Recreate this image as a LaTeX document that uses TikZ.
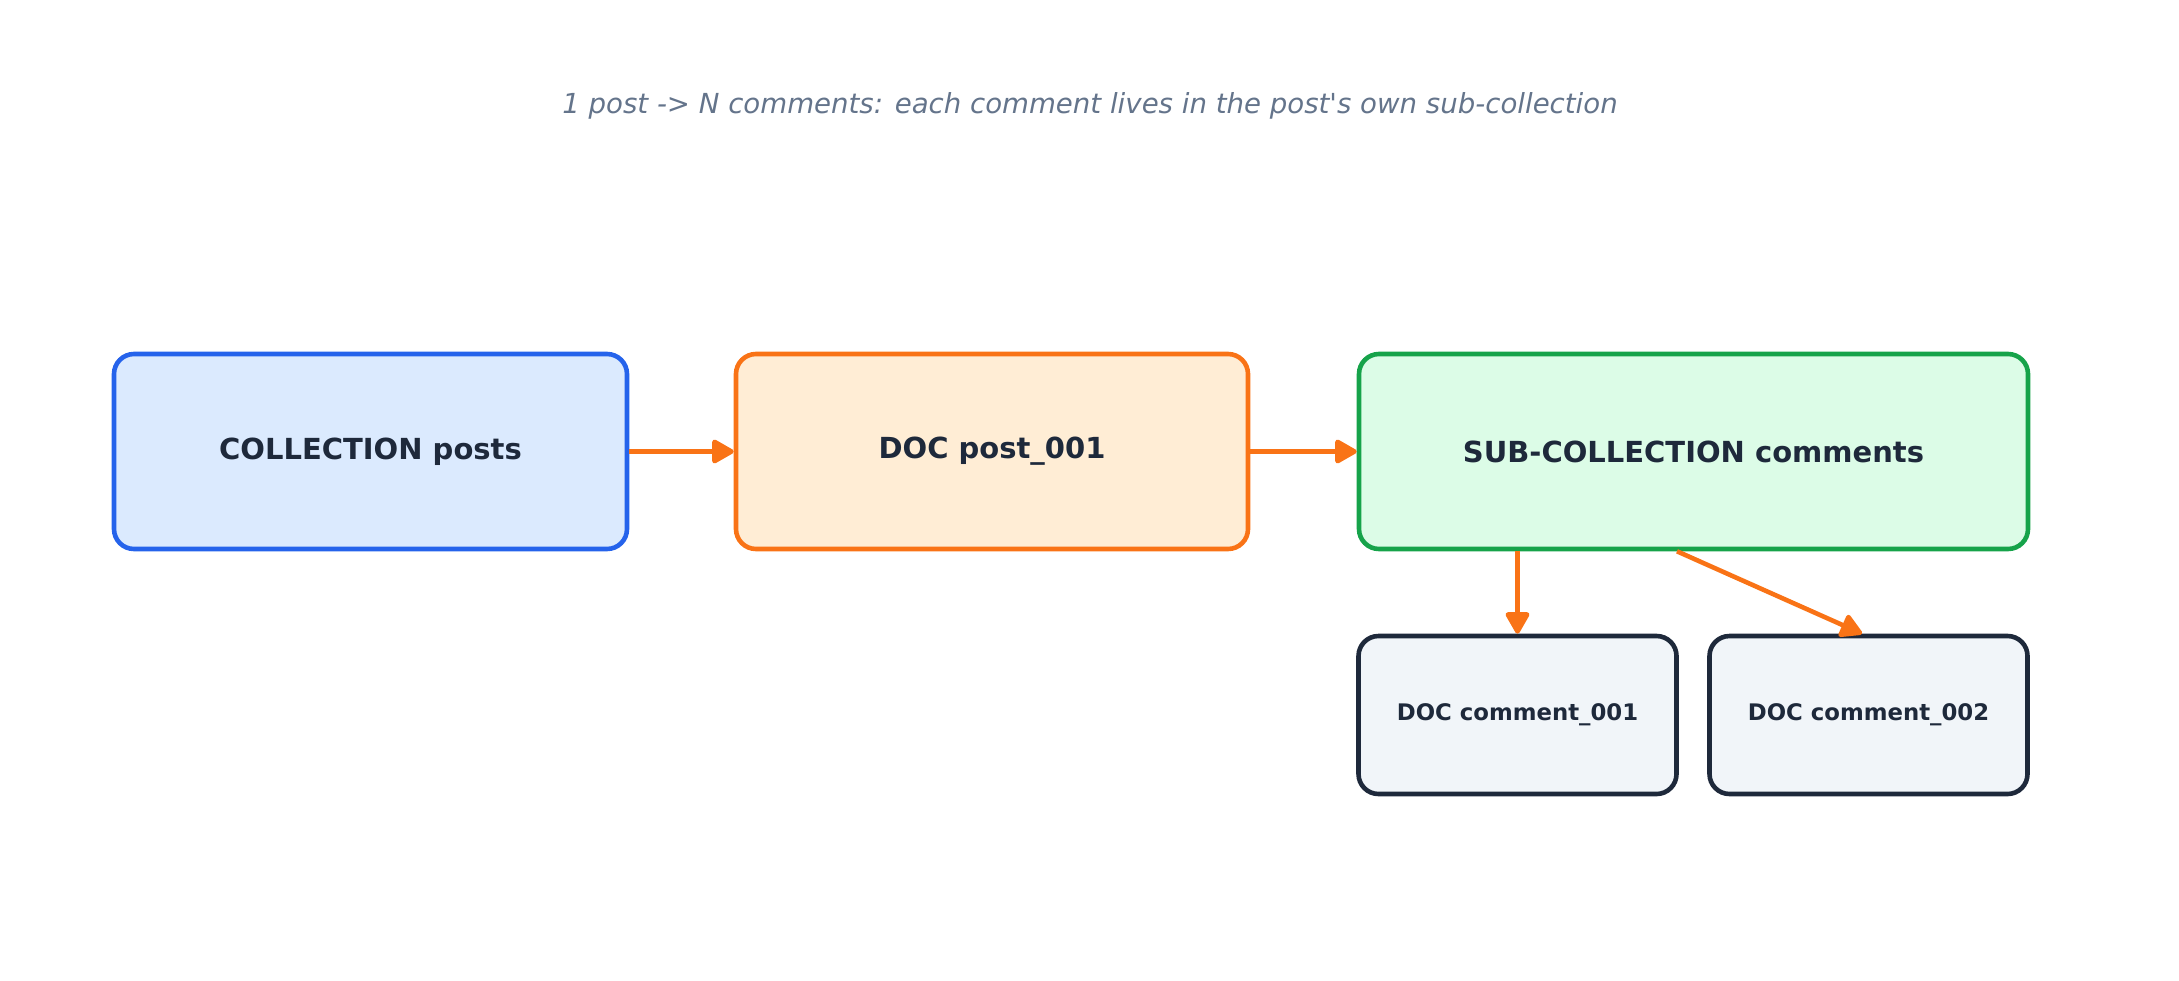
\documentclass[tikz,border=0pt]{standalone}
\usepackage{fontspec}
\setmainfont{DejaVu Sans}
\usetikzlibrary{arrows.meta}
\definecolor{bluedraw}{HTML}{2563EB}
\definecolor{bluefill}{HTML}{DBEAFE}
\definecolor{orangedraw}{HTML}{F97316}
\definecolor{orangefill}{HTML}{FFEDD5}
\definecolor{greendraw}{HTML}{16A34A}
\definecolor{greenfill}{HTML}{DCFCE7}
\definecolor{darkdraw}{HTML}{1E293B}
\definecolor{darkfill}{HTML}{F1F5F9}
\definecolor{titlegray}{HTML}{64748B}
\tikzset{
  box/.style={rounded corners=10pt, line width=2.3pt, text=darkdraw, font=\bfseries\fontsize{14.5}{17}\selectfont, inner sep=0pt},
  bigbox/.style={box, minimum height=97.5pt},
  smallbox/.style={box, minimum height=79pt, minimum width=159pt, draw=darkdraw, fill=darkfill, font=\bfseries\fontsize{11.4}{14}\selectfont},
  link/.style={draw=orangedraw, line width=2.3pt, -{Triangle[length=12pt, width=13pt, round]}},
}
\begin{document}
\begin{tikzpicture}[x=0.5pt, y=-0.5pt]
\useasboundingbox (0,0) rectangle (2179,980);
\node (title) at (1090,106) [font=\itshape\fontsize{13.8}{16}\selectfont, text=titlegray] {1 post -> N comments: each comment lives in the post\textquotesingle s own sub-collection};
\node (posts) at (370.5,451.5) [bigbox, minimum width=256.5pt, draw=bluedraw, fill=bluefill] {COLLECTION posts};
\node (post) at (992,451.5) [bigbox, minimum width=256pt, draw=orangedraw, fill=orangefill] {DOC post\_001};
\node (sub) at (1693.5,451.5) [bigbox, minimum width=334.5pt, draw=greendraw, fill=greenfill] {SUB-COLLECTION comments};
\node (c1) at (1517.5,715) [smallbox] {DOC comment\_001};
\node (c2) at (1868.5,715) [smallbox] {DOC comment\_002};
\draw[link] (posts.east) -- (post.west);
\draw[link] (post.east) -- (sub.west);
\draw[link] (sub.south -| c1) -- (c1.north);
\coordinate (s2) at (1677,549);
\coordinate (e2) at (1862,636);
\draw[link] (sub.south -| s2) -- (c2.north -| e2);
\end{tikzpicture}
\end{document}
